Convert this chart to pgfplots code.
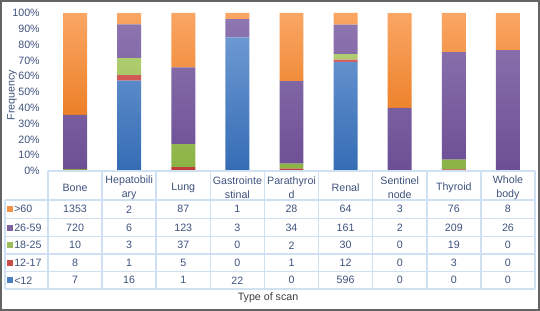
\documentclass[border=0pt]{standalone}
\usepackage{fontspec}
\setmainfont{Liberation Sans}
\usepackage{pgfplots}
\pgfplotsset{compat=1.18}
\definecolor{txt}{RGB}{62,82,125}
\definecolor{grid}{RGB}{208,224,243}
\definecolor{frame}{RGB}{100,100,100}
\definecolor{blueT}{RGB}{108,152,210}
\definecolor{blueB}{RGB}{52,108,180}
\definecolor{blueM}{RGB}{75,125,195}
\definecolor{redT}{RGB}{212,95,92}
\definecolor{redB}{RGB}{190,60,58}
\definecolor{redM}{RGB}{200,75,72}
\definecolor{greenT}{RGB}{176,206,112}
\definecolor{greenB}{RGB}{138,178,68}
\definecolor{greenM}{RGB}{155,190,90}
\definecolor{purpleT}{RGB}{142,118,176}
\definecolor{purpleB}{RGB}{108,78,148}
\definecolor{purpleM}{RGB}{125,98,162}
\definecolor{orangeT}{RGB}{250,166,100}
\definecolor{orangeB}{RGB}{236,128,40}
\definecolor{orangeM}{RGB}{244,146,70}
\def\cw{54.111}
\newcommand\tabrow[4]{%
  \fill[#2] (7,{#1-3}) rectangle (13,{#1+3});
  \node[anchor=west,inner sep=0pt,text=txt,font=\fontsize{8}{9.6}\selectfont] at (14,#1) {#3};
  \foreach \v [count=\i from 0] in {#4}
    \node[inner sep=0pt,text=txt,font=\fontsize{8}{9.6}\selectfont] at ({48+\cw*(\i+0.5)},#1) {\v};
}
\begin{document}
\begin{tikzpicture}[x=0.75pt,y=-0.75pt]
\useasboundingbox (0,0) rectangle (540,311);
\draw[frame,line width=1.5pt] (1,1) rectangle (539,310);
\coordinate (O) at (48,171);
\begin{axis}[at={(O)}, anchor=south west, scale only axis,
  width=365.25pt, height=118.5pt,
  xmin=-0.5, xmax=8.5, ymin=0, ymax=100,
  ybar stacked, bar width=0.443,
  axis line style={draw=none},
  xtick=\empty, ytick={0,10,...,100}, major tick length=0pt,
  yticklabel={\pgfmathprintnumber{\tick}\%},
  yticklabel style={font=\fontsize{8}{9.6}\selectfont, text=txt, inner sep=0pt, xshift=-6pt},
  /pgf/number format/assume math mode=true,
  clip=false]
\addplot[draw=none, top color=blueT, bottom color=blueB] coordinates {(0,0.33) (1,57.14) (2,0.40) (3,84.62) (4,0) (5,69.06) (6,0) (7,0) (8,0)};
\addplot[draw=none, top color=redT, bottom color=redB] coordinates {(0,0.38) (1,3.57) (2,1.98) (3,0) (4,1.54) (5,1.39) (6,0) (7,0.98) (8,0)};
\addplot[draw=none, top color=greenT, bottom color=greenB] coordinates {(0,0.48) (1,10.71) (2,14.62) (3,0) (4,3.08) (5,3.48) (6,0) (7,6.19) (8,0)};
\addplot[draw=none, top color=purpleT, bottom color=purpleB] coordinates {(0,34.32) (1,21.43) (2,48.62) (3,11.54) (4,52.31) (5,18.66) (6,40) (7,68.08) (8,76.47)};
\addplot[draw=none, top color=orangeT, bottom color=orangeB] coordinates {(0,64.49) (1,7.14) (2,34.39) (3,3.85) (4,43.08) (5,7.42) (6,60) (7,24.76) (8,23.53)};
\end{axis}
% table grid
\begin{scope}[grid, line width=1.1pt]
\draw (48,171) -- (535,171);
\foreach \y in {200,218.5,236.5,254,271.5,289} \draw (5,\y) -- (535,\y);
\draw (5,200) -- (5,289);
\foreach \k in {0,...,9} \draw ({48+\cw*\k},171) -- ({48+\cw*\k},289);
\end{scope}
% header
\foreach \lab [count=\i from 0] in {Bone,{Hepatobili\\ary},Lung,{Gastrointe\\stinal},{Parathyroi\\d},Renal,{Sentinel\\node},Thyroid,{Whole\\body}}
  \node[align=center,inner sep=0pt,text=txt,font=\fontsize{8}{10.2}\selectfont] at ({48+\cw*(\i+0.5)},187.5) {\lab};
\tabrow{209.3}{orangeM}{>60}{1353,2,87,1,28,64,3,76,8}
\tabrow{227.5}{purpleM}{26-59}{720,6,123,3,34,161,2,209,26}
\tabrow{245.3}{greenM}{18-25}{10,3,37,0,2,30,0,19,0}
\tabrow{262.8}{redM}{12-17}{8,1,5,0,1,12,0,3,0}
\tabrow{280.3}{blueM}{<12}{7,16,1,22,0,596,0,0,0}
\node[rotate=90,text=txt,font=\fontsize{8}{9.6}\selectfont] at (12,95) {Frequency};
\node[text={rgb,255:red,60;green,60;blue,60},font=\fontsize{8}{9.6}\selectfont] at (268,298) {Type of scan};
\end{tikzpicture}
\end{document}
